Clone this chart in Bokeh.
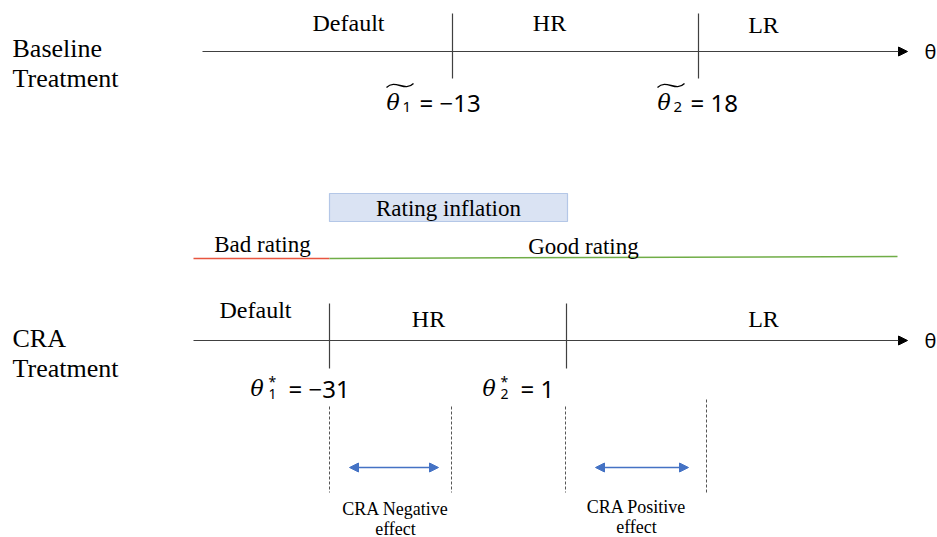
from bokeh.plotting import figure
from bokeh.models import Arrow, NormalHead
from bokeh.core.properties import value
from bokeh.embed import file_html
from bokeh.resources import INLINE

# ---- data ----
regions = ["Default", "HR", "LR"]
baseline_thresholds = [-13, 18]
cra_thresholds = [-31, 1]
threshold_subscripts = ["1", "2"]
rating_labels = ["Bad rating", "Good rating"]
effect_top = ["CRA Negative", "CRA Positive"]
effect_bottom = ["effect", "effect"]
treatment_top = ["Baseline", "CRA"]
treatment_bottom = ["Treatment", "Treatment"]

# ---- layout (page pixel coordinates) ----
W, H = 937, 537
p = figure(width=W, height=H, x_range=(0, W), y_range=(H, 0),
           output_backend="svg", toolbar_location=None, min_border=0)
p.axis.visible = False
p.grid.visible = False
p.outline_line_color = None
p.background_fill_color = "white"
p.border_fill_color = "white"

SERIF = value("Liberation Serif")
MATHI = value("DejaVu Serif")
SANS = value("Noto Sans")


def fmt(v):
    return str(v).replace("-", "\u2212")


def txt(x, y, t, font=SERIF, size="24px", align="center", baseline="middle", style="normal"):
    p.text(x=x, y=y, text=t, text_font=font, text_font_size=size, text_align=align,
           text_baseline=baseline, text_font_style=style, text_color="black")


# treatment labels
txt([12, 12], [48, 338], treatment_top, size="26px", align="left")
txt([12, 12], [78, 368], treatment_bottom, size="26px", align="left")

# axes with arrowheads
axis_y = [51, 340]
axis_x0 = [202, 193]
for x0, y in zip(axis_x0, axis_y):
    p.add_layout(Arrow(x_start=x0, y_start=y, x_end=907, y_end=y, line_color="#404040",
                       line_width=1.2,
                       end=NormalHead(size=9, fill_color="black", line_color="black")))
txt([924, 924], axis_y, ["\u03b8", "\u03b8"], font=SANS, size="20px", align="left")

# baseline ticks and labels
b_ticks = [452, 698]
p.segment(x0=b_ticks, y0=[13] * 2, x1=b_ticks, y1=[78] * 2, line_color="#404040", line_width=1.2)
txt([348, 549, 763], [22, 22, 24], regions, size="24px")

# baseline thresholds: theta-tilde_i = value
bt_x = [386, 657]
txt(bt_x, [102, 102], ["\u03b8", "\u03b8"], font=MATHI, size="22px", align="left",
    baseline="alphabetic", style="italic")
txt([x + 16 for x in bt_x], [106, 106], threshold_subscripts, font=SANS, size="15px",
    align="left", baseline="alphabetic")
p.bezier(x0=[x for x in bt_x], y0=[87, 87], x1=[x + 27 for x in bt_x], y1=[83, 83],
         cx0=[x + 9 for x in bt_x], cy0=[78, 78], cx1=[x + 18 for x in bt_x], cy1=[92, 92],
         line_color="black", line_width=1.3)
txt([x + 33 for x in bt_x], [102, 102], ["= " + fmt(v) for v in baseline_thresholds],
    font=SANS, size="24px", align="left", baseline="alphabetic")

# rating inflation box
p.quad(left=[329], right=[567], top=[193], bottom=[221], fill_color="#dae3f3",
       line_color="#b4c7e7", line_width=1.2)
txt([448], [208], ["Rating inflation"], size="23px")

# rating lines
p.segment(x0=[193], y0=[258], x1=[329], y1=[258], line_color="#e8553f", line_width=1.5)
p.segment(x0=[329], y0=[258], x1=[897], y1=[256], line_color="#70ad47", line_width=1.5)
txt([262, 583], [244, 246], rating_labels, size="23px")

# CRA ticks and labels
c_ticks = [329, 566]
p.segment(x0=c_ticks, y0=[303] * 2, x1=c_ticks, y1=[368] * 2, line_color="#404040", line_width=1.2)
txt([255, 428, 763], [309, 318, 318], regions, size="24px")

# CRA thresholds: theta*_i = value
ct_x = [250, 482]
txt(ct_x, [388, 388], ["\u03b8", "\u03b8"], font=MATHI, size="22px", align="left",
    baseline="alphabetic", style="italic")
txt([x + 18 for x in ct_x], [393, 393], threshold_subscripts, font=SANS, size="14px",
    align="left", baseline="alphabetic")
txt([x + 18 for x in ct_x], [381, 381], ["*", "*"], font=SANS, size="14px",
    align="left", baseline="alphabetic")
txt([x + 38 for x in ct_x], [388, 388], ["= " + fmt(v) for v in cra_thresholds],
    font=SANS, size="24px", align="left", baseline="alphabetic")

# dashed effect bounds
dash_x = [329, 451, 565, 706]
p.segment(x0=dash_x, y0=[406, 406, 406, 399], x1=dash_x, y1=[492] * 4,
          line_color="#555555", line_width=1, line_dash="3 2")

# double-headed arrows
for xa, xb in [(349, 438), (595, 688)]:
    p.add_layout(Arrow(x_start=xa, y_start=467, x_end=xb, y_end=467, line_color="#4472c4",
                       line_width=1.5,
                       start=NormalHead(size=9, fill_color="#4472c4", line_color="#4472c4"),
                       end=NormalHead(size=9, fill_color="#4472c4", line_color="#4472c4")))

txt([395, 636], [508, 506], effect_top, size="18px")
txt([395, 636], [528, 526], effect_bottom, size="18px")

open("out.html", "w").write(file_html(p, INLINE))
